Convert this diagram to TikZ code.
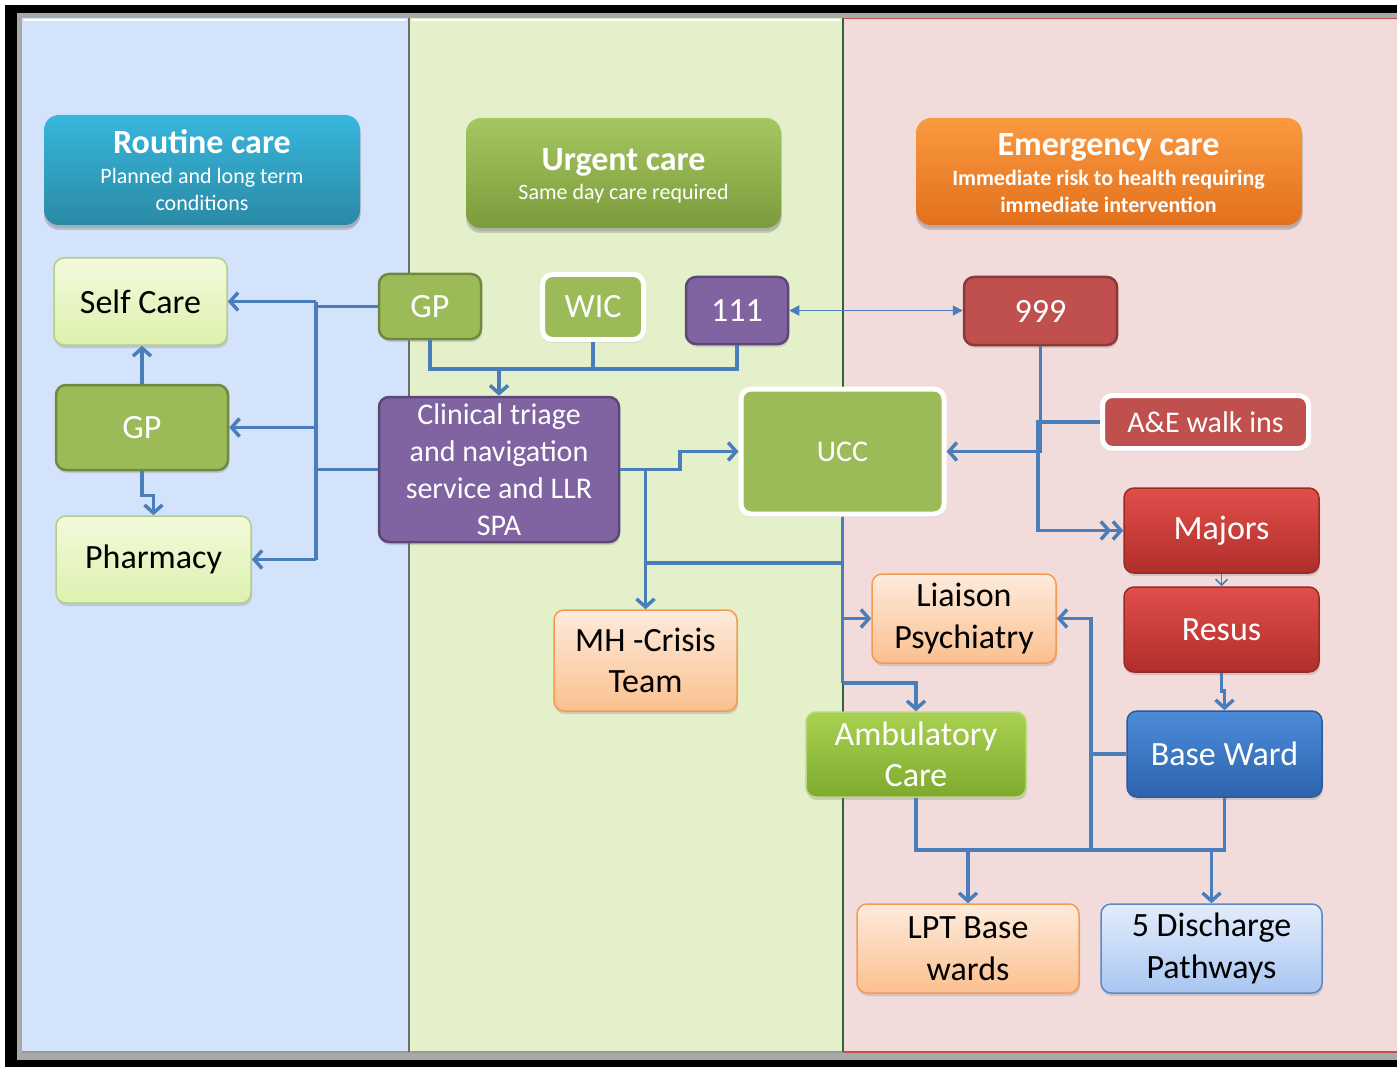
\documentclass[tikz,border=0pt]{standalone}
\usepackage{fontspec}
\setmainfont{Carlito}
\usetikzlibrary{arrows.meta,shadows,calc}

% panel and frame colours
\definecolor{panelBlue}{HTML}{D3E3FB}
\definecolor{panelGreen}{HTML}{E3F0CA}
\definecolor{panelPink}{HTML}{F2DCDB}
\definecolor{frameGray}{HTML}{A8A8A8}
\definecolor{link}{HTML}{4A7EBB}
% header colours
\definecolor{routineTop}{HTML}{38B6DC}
\definecolor{routineBot}{HTML}{2A8AA6}
\definecolor{urgentTop}{HTML}{A5C760}
\definecolor{urgentBot}{HTML}{7B9B3C}
\definecolor{emergTop}{HTML}{FA9A40}
\definecolor{emergBot}{HTML}{E2701C}
% box colours
\definecolor{gpFill}{HTML}{9BBB59}
\definecolor{gpLine}{HTML}{71893F}
\definecolor{lightTop}{HTML}{F3FADC}
\definecolor{lightBot}{HTML}{DDF1AE}
\definecolor{lightLine}{HTML}{B3CF85}
\definecolor{purpFill}{HTML}{8064A2}
\definecolor{purpLine}{HTML}{5C4776}
\definecolor{redFill}{HTML}{C0504D}
\definecolor{redLine}{HTML}{8C3836}
\definecolor{hotTop}{HTML}{E24E4A}
\definecolor{hotBot}{HTML}{B02E2A}
\definecolor{hotLine}{HTML}{9B2A27}
\definecolor{blueTop}{HTML}{4C8BDA}
\definecolor{blueBot}{HTML}{2D64AC}
\definecolor{blueLine}{HTML}{2B5C9A}
\definecolor{ambTop}{HTML}{A9D151}
\definecolor{ambBot}{HTML}{7EAA2E}
\definecolor{ambLine}{HTML}{B9DA7A}
\definecolor{peachTop}{HTML}{FDEBDC}
\definecolor{peachBot}{HTML}{FBC08F}
\definecolor{peachLine}{HTML}{F59A4E}
\definecolor{dischTop}{HTML}{E2EDFC}
\definecolor{dischBot}{HTML}{A9C6F1}
\definecolor{dischLine}{HTML}{5A88C4}

\tikzset{
  box/.style={rectangle, rounded corners=10pt, inner sep=0pt, align=center,
    line width=1.5pt, drop shadow={opacity=0.28, shadow xshift=1pt, shadow yshift=-3pt}},
  header/.style={box, rounded corners=15pt, draw=none,
    drop shadow={opacity=0.35, shadow xshift=0pt, shadow yshift=-5pt}},
  t34/.style={font=\fontsize{34}{41.5}\selectfont},
  t30/.style={font=\fontsize{30}{37}\selectfont},
  htitle/.style={anchor=base, text=white, font=\fontsize{34}{40}\selectfont\bfseries},
  hsub/.style={anchor=base, text=white, font=\fontsize{22}{27}\selectfont},
  hsubbold/.style={hsub, font=\fontsize{22}{27}\selectfont\bfseries},
  lightbox/.style={box, t34, top color=lightTop, bottom color=lightBot, draw=lightLine},
  gpbox/.style={box, t34, fill=gpFill, draw=gpLine, line width=2.5pt, text=white},
  whitegreen/.style={box, t34, fill=gpFill, draw=white, line width=5pt, text=white},
  purplebox/.style={box, fill=purpFill, draw=purpLine, line width=2.5pt, text=white},
  redbox/.style={box, t34, fill=redFill, draw=redLine, line width=2.5pt, text=white},
  whitered/.style={box, t30, fill=redFill, draw=white, line width=5pt, text=white},
  hotbox/.style={box, t34, top color=hotTop, bottom color=hotBot, draw=hotLine, text=white},
  bluebox/.style={box, t34, top color=blueTop, bottom color=blueBot, draw=blueLine, text=white},
  ambbox/.style={box, t34, top color=ambTop, bottom color=ambBot, draw=ambLine, text=white},
  peachbox/.style={box, t34, top color=peachTop, bottom color=peachBot, draw=peachLine},
  dischbox/.style={box, t34, top color=dischTop, bottom color=dischBot, draw=dischLine},
  conn/.style={draw=link, line width=3.5pt},
  arr/.style={-{Straight Barb[length=8pt,width=18pt]}},
  dblarr/.style={-{Straight Barb[length=8pt,width=18pt] Straight Barb[length=8pt,width=18pt]}},
  thinlink/.style={draw=link, line width=1.8pt, {Triangle[length=10pt,width=10pt]}-{Triangle[length=10pt,width=10pt]}},
  smallarr/.style={draw=link, line width=1.6pt, -{Straight Barb[length=6pt,width=12pt]}}
}

\begin{document}
\begin{tikzpicture}[x=1pt,y=-1pt]
\useasboundingbox (0,0) rectangle (1397,1067);

% outer frame
\fill[white] (0,0) rectangle (1397,1067);
\fill[black] (5,5) rectangle (1397,1067);
\fill[frameGray] (17,13) rectangle (1397,1060);

% three care panels
\fill[panelBlue] (22,18) rectangle (409,1052);
\fill[panelGreen] (409,18) rectangle (843,1052);
\fill[panelPink] (843,18) rectangle (1397,1052);
\draw[white, line width=2.5pt] (24,20) -- (406,20) (412,20) -- (840,20);
\draw[gray!80, line width=1.5pt] (22,1052) -- (843,1052);
\draw[gray!85!black, line width=1.2pt] (409,18) -- (409,1052);
\draw[gray!70!green!60!black, line width=1.2pt] (843,18) -- (843,1052);
\draw[redFill, line width=1.2pt] (843,18.6) -- (1397,18.6) (843,1052) -- (1397,1052);

% panel headers
\node[header, top color=routineTop, bottom color=routineBot, minimum width=316pt, minimum height=110pt] (hRoutine) at (202,170) {};
\node[htitle] (tRoutine) at (202,154) {Routine care};
\node[hsub] (sRoutineA) at (202,184) {Planned and long term};
\node[hsub] (sRoutineB) at (202,211) {conditions};

\node[header, top color=urgentTop, bottom color=urgentBot, minimum width=315pt, minimum height=110pt] (hUrgent) at (623.5,173) {};
\node[htitle] (tUrgent) at (623.5,171) {Urgent care};
\node[hsub] (sUrgent) at (623.5,200) {Same day care required};

\node[header, top color=emergTop, bottom color=emergBot, minimum width=386pt, minimum height=107pt] (hEmerg) at (1109,171.5) {};
\node[htitle] (tEmerg) at (1108.5,156) {Emergency care};
\node[hsubbold] (sEmergA) at (1108.5,186) {Immediate risk to health requiring};
\node[hsubbold] (sEmergB) at (1108.5,213) {immediate intervention};

% routine care services
\node[lightbox, minimum width=173pt, minimum height=87pt] (selfcare) at (140.5,301.5) {Self Care};
\node[gpbox, minimum width=172pt, minimum height=85pt] (gpL) at (142,427.5) {GP};
\node[lightbox, minimum width=195pt, minimum height=87pt] (pharmacy) at (153.5,559.5) {Pharmacy};

% urgent care services
\node[gpbox, minimum width=102pt, minimum height=65pt] (gpT) at (430,306.5) {GP};
\node[whitegreen, minimum width=101pt, minimum height=65pt] (wic) at (593,307) {WIC};
\node[purplebox, t34, minimum width=102pt, minimum height=67pt] (n111) at (737,310.5) {111};
\node[purplebox, t30, minimum width=240pt, minimum height=145pt] (triage) at (499,469.5)
  {Clinical triage\\and navigation\\service and LLR\\SPA};
\node[whitegreen, t30, minimum width=203pt, minimum height=125pt] (ucc) at (842.5,451.5) {UCC};
\node[peachbox, minimum width=183pt, minimum height=101pt] (mh) at (645.5,660.5) {MH -Crisis\\Team};

% emergency care services
\node[redbox, minimum width=153pt, minimum height=68pt] (n999) at (1040.5,311) {999};
\node[whitered, minimum width=206pt, minimum height=53pt] (ae) at (1205.5,422) {A\&E walk ins};
\node[hotbox, minimum width=195pt, minimum height=85pt] (majors) at (1221.5,530.5) {Majors};
\node[hotbox, minimum width=195pt, minimum height=85pt] (resus) at (1221.5,629.5) {Resus};
\node[bluebox, minimum width=195pt, minimum height=86pt] (baseward) at (1224.5,754) {Base Ward};
\node[peachbox, minimum width=184pt, minimum height=89pt] (liaison) at (964,618.5) {Liaison\\Psychiatry};
\node[ambbox, minimum width=220pt, minimum height=85pt] (amb) at (916,754.5) {Ambulatory\\Care};
\node[peachbox, minimum width=222pt, minimum height=89pt] (lpt) at (968,948.5) {LPT Base\\wards};
\node[dischbox, minimum width=221pt, minimum height=89pt] (disch) at (1211.5,948.5) {5 Discharge\\Pathways};

% routing reference points
\coordinate (busL) at (316,0);
\coordinate (topJoin) at (499,369);
\coordinate (jogU) at (680,0);
\coordinate (midBus) at (0,563);
\coordinate (ambBus) at (0,683);
\coordinate (aeBus) at (1038,0);
\coordinate (bwBus) at (1091,0);
\coordinate (lowBus) at (0,850);

% routine care fan-out
\draw[conn] (gpT.west) -- (busL |- gpT.west);
\draw[conn] (triage.west) -- (busL |- triage.west);
\draw[conn] (busL |- selfcare.east) -- (busL |- pharmacy.east);
\draw[conn, arr] (busL |- selfcare.east) -- (selfcare.east);
\draw[conn, arr] (busL |- gpL.east) -- (gpL.east);
\draw[conn, arr] (busL |- pharmacy.east) -- (pharmacy.east);
\draw[conn, arr] (gpL.north) -- (gpL.north |- selfcare.south);
\draw[conn, arr] (gpL.south) -- ++(0,24) -| (pharmacy.north);

% urgent entry points into triage
\draw[conn] (gpT.south) -- (gpT.south |- topJoin) -- (n111.south |- topJoin) -- (n111.south);
\draw[conn] (wic.south) -- (wic.south |- topJoin);
\draw[conn, arr] (topJoin) -- (triage.north);

% triage onward routes
\draw[conn, arr] (triage.east) -- (jogU |- triage.east) -- (jogU |- ucc.west) -- (ucc.west);
\draw[conn, arr] (mh.north |- triage.east) -- (mh.north);
\draw[conn] (mh.north |- midBus) -- (ucc.south |- midBus);
\draw[conn] (ucc.south) -- (ucc.south |- ambBus);
\draw[conn, arr] (ucc.south |- liaison.west) -- (liaison.west);
\draw[conn, arr] (ucc.south |- ambBus) -| (amb.north);

% 111 and 999
\draw[thinlink] (n111.east) -- (n111.east -| n999.west);

% emergency routes
\draw[conn, arr] (n999.south) -- (n999.south |- ucc.east) -- (ucc.east);
\draw[conn, dblarr] (ae.west) -- (aeBus |- ae.west) -- (aeBus |- majors.west) -- (majors.west);
\draw[smallarr] (majors.south) -- (resus.north);
\draw[conn, arr] (resus.south) -- ++(0,18) -| (baseward.north);
\draw[conn, arr] (baseward.west) -- (bwBus |- baseward.west) -- (bwBus |- liaison.east) -- (liaison.east);
\draw[conn] (bwBus |- baseward.west) -- (bwBus |- lowBus);

% discharge routes
\draw[conn] (amb.south) -- (amb.south |- lowBus) -- (baseward.south |- lowBus) -- (baseward.south);
\draw[conn, arr] (lpt.north |- lowBus) -- (lpt.north);
\draw[conn, arr] (disch.north |- lowBus) -- (disch.north);
\end{tikzpicture}
\end{document}
